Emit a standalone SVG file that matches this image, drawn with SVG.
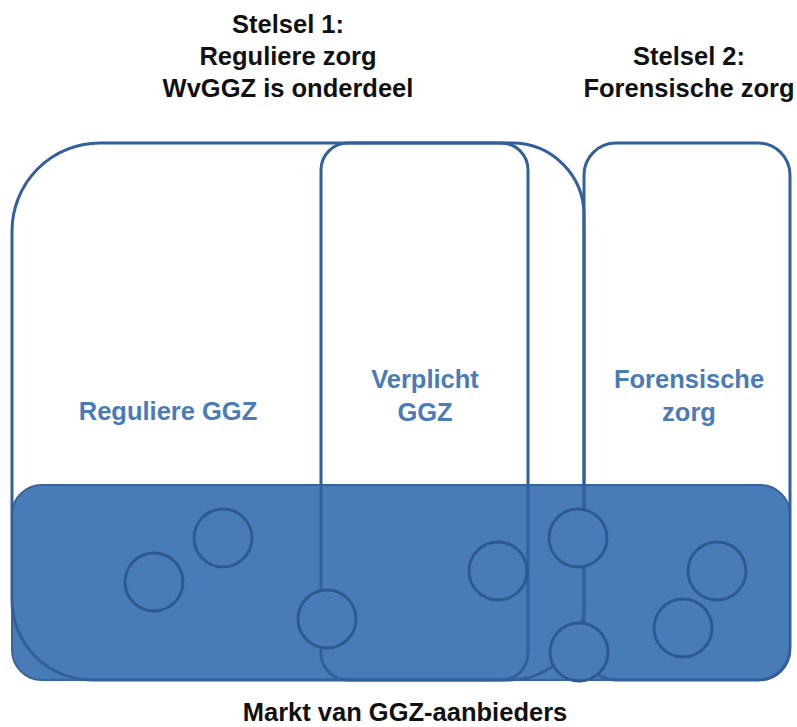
<svg xmlns="http://www.w3.org/2000/svg" width="797" height="727" viewBox="0 0 797 727">
  <style>
    .title { font-family: "Liberation Sans", Arial, sans-serif; font-size: 25.5px; font-weight: 600; fill: #111111; text-anchor: middle; }
    .label { font-family: "Liberation Sans", Arial, sans-serif; font-size: 25.5px; font-weight: 600; fill: #4a7bb7; text-anchor: middle; }
    .outline { fill: none; stroke: #33609a; stroke-width: 3; }
    .market { fill: #477cb8; stroke: #3a6399; stroke-width: 2; }
    .provider { fill: #477cb8; stroke: #2f5a8f; stroke-width: 3; }
  </style>
  <rect width="797" height="727" fill="#ffffff"/>

  <!-- Provider market band -->
  <g id="markt">
    <rect class="market" x="12" y="485" width="778" height="195" rx="30" ry="30"/>
    <text class="title" x="405" y="721">Markt van GGZ-aanbieders</text>
  </g>

  <!-- System 1: regular care (with compulsory care inside) -->
  <g id="stelsel1">
    <path class="outline" d="M 12,231 A 88 88 0 0 1 100,143 L 512,143 A 72 72 0 0 1 584,215 L 584,605 A 75 75 0 0 1 509,680 L 92,680 A 80 80 0 0 1 12,600 Z"/>
    <text class="title" x="288" y="33">Stelsel 1:</text>
    <text class="title" x="288" y="65">Reguliere zorg</text>
    <text class="title" x="288" y="97">WvGGZ is onderdeel</text>
    <text class="label" x="168" y="420">Reguliere GGZ</text>
  </g>

  <g id="verplicht">
    <rect class="outline" x="321" y="143" width="207" height="537" rx="27" ry="27"/>
    <text class="label" x="425" y="388">Verplicht</text>
    <text class="label" x="425" y="421">GGZ</text>
  </g>

  <!-- System 2: forensic care -->
  <g id="stelsel2">
    <rect class="outline" x="584" y="143" width="206" height="537" rx="32" ry="32"/>
    <text class="title" x="689" y="65">Stelsel 2:</text>
    <text class="title" x="689" y="97">Forensische zorg</text>
    <text class="label" x="689" y="388">Forensische</text>
    <text class="label" x="689" y="421">zorg</text>
  </g>

  <!-- Individual providers -->
  <g id="aanbieders">
    <circle class="provider" cx="223" cy="538" r="29"/>
    <circle class="provider" cx="154" cy="582" r="29"/>
    <circle class="provider" cx="327" cy="619" r="29"/>
    <circle class="provider" cx="498" cy="571" r="29"/>
    <circle class="provider" cx="578" cy="538" r="29"/>
    <circle class="provider" cx="579" cy="652" r="29"/>
    <circle class="provider" cx="717" cy="571" r="29"/>
    <circle class="provider" cx="683" cy="628" r="29"/>
  </g>
</svg>
